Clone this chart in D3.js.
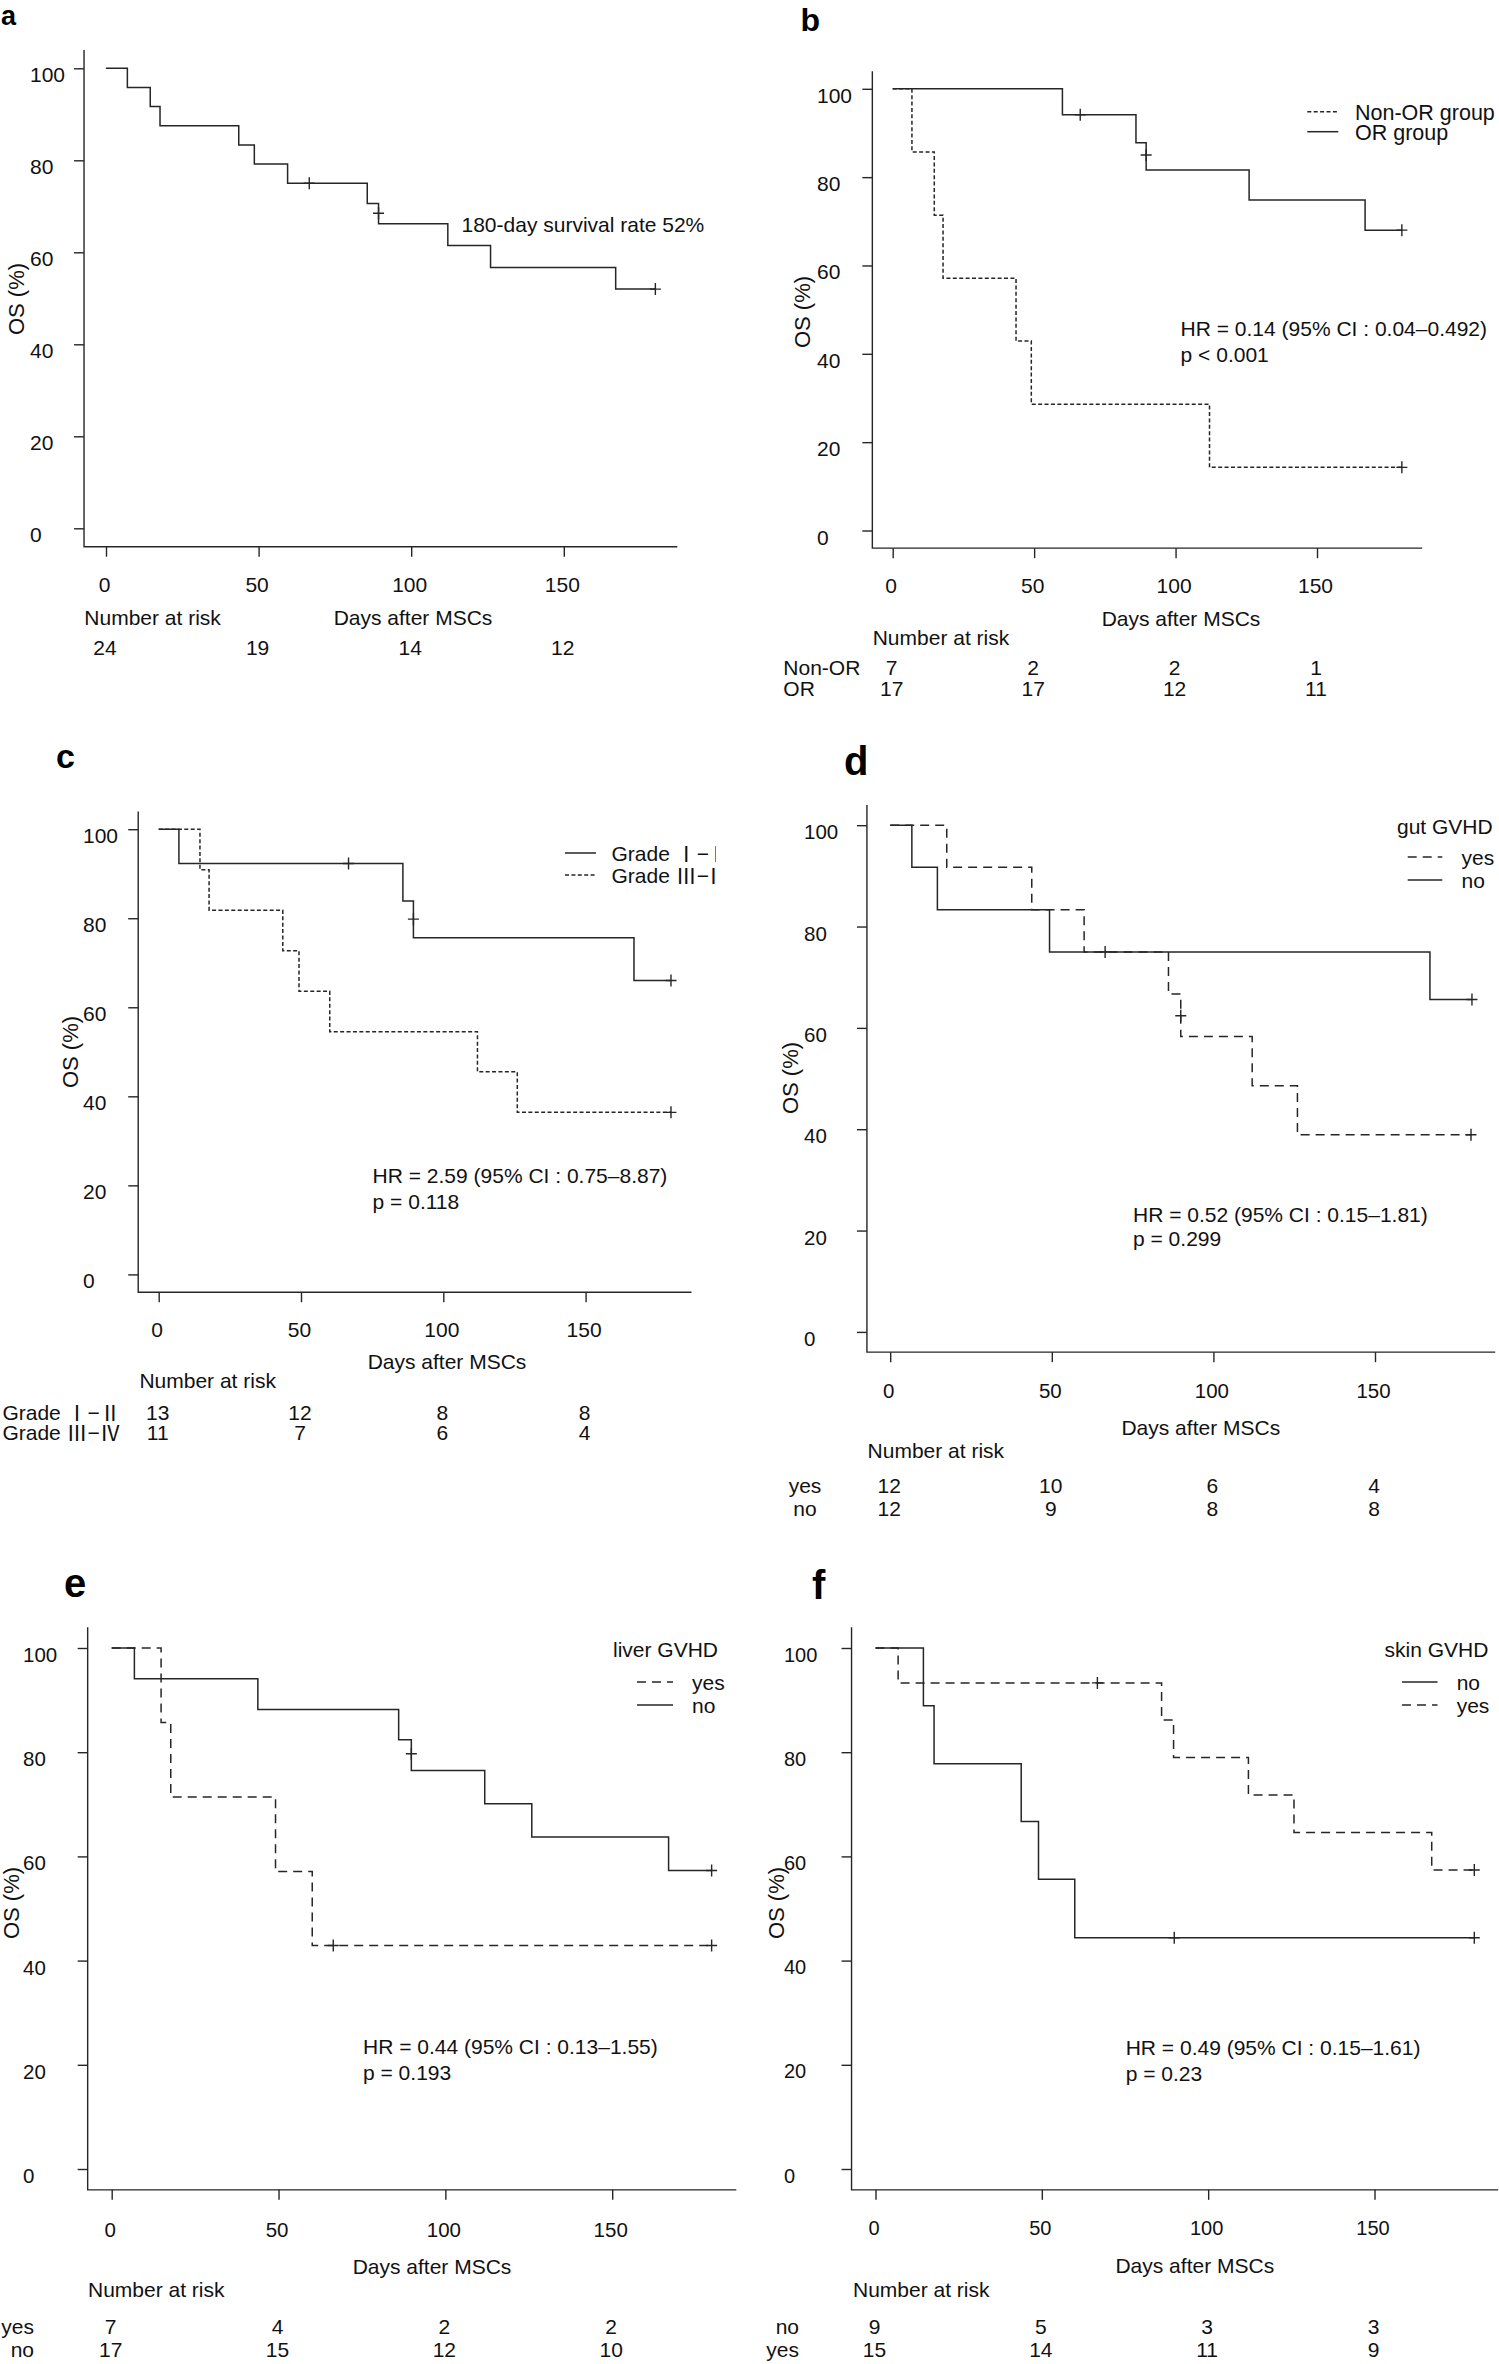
<!DOCTYPE html>
<html><head><meta charset="utf-8">
<script src="https://cdn.jsdelivr.net/npm/d3@7"></script>
<style>
html,body{margin:0;padding:0;background:#fff;}
svg{display:block;font-family:"Liberation Sans",Arial,Helvetica,sans-serif;}
</style></head><body>
<svg id="chart" width="1499" height="2364"></svg>
<script>
// ================= DATA =================
const xTicks = [0, 50, 100, 150];
const yTicks = [0, 20, 40, 60, 80, 100];
const riskDays = [0, 50, 100, 150];
const endDay = 180;

// panel a : all patients
const aTimes = [0, 7, 14.5, 17.7, 43.5, 48.6, 59.5, 85.6, 89.3, 112, 126, 167];
const aSurv  = [100, 95.8, 91.7, 87.5, 83.3, 79.2, 75.0, 70.6, 66.2, 61.5, 56.7, 52.0];
const aCensT = [66.6, 89.3, 180];
const aCensS = [75.0, 68.5, 52.0];
const aRisk  = [24, 19, 14, 12];

// panel b : Non-OR vs OR
const bNonTimes = [0, 6.8, 14.7, 17.8, 43.6, 49, 112];
const bNonSurv  = [100, 85.7, 71.4, 57.1, 42.9, 28.6, 14.3];
const bNonCensT = [180];
const bNonCensS = [14.3];
const bOrTimes  = [0, 60, 86, 89.6, 126, 167];
const bOrSurv   = [100, 94.1, 87.8, 81.6, 74.8, 68.0];
const bOrCensT  = [66.3, 89.6, 180];
const bOrCensS  = [94.1, 85.0, 68.0];
const bRiskNon  = [7, 2, 2, 1];
const bRiskOr   = [17, 17, 12, 11];

// panel c : Grade I-II vs III-IV
const cLowTimes  = [0, 7.1, 85.8, 89.5, 167];
const cLowSurv   = [100, 92.3, 83.9, 75.6, 66.0];
const cLowCensT  = [66.7, 89.5, 180];
const cLowCensS  = [92.3, 79.8, 66.0];
const cHighTimes = [0, 14.5, 17.7, 43.6, 49.3, 60.1, 112, 126];
const cHighSurv  = [100, 90.9, 81.8, 72.7, 63.6, 54.5, 45.5, 36.4];
const cHighCensT = [180];
const cHighCensS = [36.4];
const cRiskLow   = [13, 12, 8, 8];
const cRiskHigh  = [11, 7, 6, 4];

// panel d : gut GVHD
const dYesTimes = [0, 17.5, 43.8, 60, 86.1, 89.9, 112, 126];
const dYesSurv  = [100, 91.7, 83.3, 75.0, 66.7, 58.3, 48.6, 38.9];
const dYesCensT = [89.9, 179.7];
const dYesCensS = [62.4, 38.9];
const dNoTimes  = [0, 6.7, 14.6, 49.3, 167];
const dNoSurv   = [100, 91.7, 83.3, 75.0, 65.6];
const dNoCensT  = [66.5, 180];
const dNoCensS  = [75.0, 65.6];
const dRiskYes  = [12, 10, 6, 4];
const dRiskNo   = [12, 9, 8, 8];

// panel e : liver GVHD
const eYesTimes = [0, 14.8, 17.7, 49.1, 60.1];
const eYesSurv  = [100, 85.7, 71.4, 57.1, 42.9];
const eYesCensT = [66.4, 179.8];
const eYesCensS = [42.9, 42.9];
const eNoTimes  = [0, 6.8, 43.8, 86, 89.8, 111.8, 125.9, 166.9];
const eNoSurv   = [100, 94.1, 88.2, 82.4, 76.5, 70.1, 63.7, 57.3];
const eNoCensT  = [89.8, 179.8];
const eNoCensS  = [79.7, 57.3];
const eRiskYes  = [7, 4, 2, 2];
const eRiskNo   = [17, 15, 12, 10];

// panel f : skin GVHD
const fNoTimes  = [0, 14.4, 17.6, 43.8, 49, 59.9];
const fNoSurv   = [100, 88.9, 77.8, 66.7, 55.6, 44.4];
const fNoCensT  = [89.8, 180];
const fNoCensS  = [44.4, 44.4];
const fYesTimes = [0, 6.8, 86, 89.6, 112.1, 125.8, 167.2];
const fYesSurv  = [100, 93.3, 86.2, 79.0, 71.8, 64.6, 57.4];
const fYesCensT = [66.7, 180];
const fYesCensS = [93.3, 57.4];
const fRiskNo   = [9, 5, 3, 3];
const fRiskYes  = [15, 14, 11, 9];

// ================= STYLE / LAYOUT =================
const TEXT = '#111';
const LINE = '#262626';
const SOLID = null, DOTTED = '4,2.4', DASHED = '9,6';
const CJK = '"Noto Sans CJK JP","Noto Sans CJK SC",sans-serif';

const panels = [
  { label:'a', labelX:1, labelY:25, labelSize:27,
    x0:106, x150:563.8, y0:528.3, y100:68.3,
    yLabX:30, xLabY:585, fs:21, tickFs:21,
    osX:16, osY:299,
    daysX:413, daysY:617, narX:84.3, narY:617.3,
    series:[{t:aTimes, s:aSurv, ct:aCensT, cs:aCensS, dash:SOLID}],
    riskRows:[{name:'', vals:aRisk, y:646.7}], riskLabX:0, riskAnchor:'start',
    notes:[{text:'180-day survival rate 52%', x:461.5, y:224}],
    legend:null },
  { label:'b', labelX:800.4, labelY:31, labelSize:32,
    x0:892.7, x150:1317, y0:530.5, y100:88.8,
    yLabX:817, xLabY:586, fs:21, tickFs:21,
    osX:802.5, osY:312,
    daysX:1181, daysY:617.5, narX:872.7, narY:637,
    series:[{t:bNonTimes, s:bNonSurv, ct:bNonCensT, cs:bNonCensS, dash:DOTTED},
            {t:bOrTimes, s:bOrSurv, ct:bOrCensT, cs:bOrCensS, dash:SOLID}],
    riskRows:[{name:'Non-OR', vals:bRiskNon, y:666.7},{name:'OR', vals:bRiskOr, y:687.7}],
    riskLabX:783.3, riskAnchor:'start',
    notes:[{text:'HR = 0.14 (95% CI : 0.04\u20130.492)', x:1180.6, y:327.5},{text:'p < 0.001', x:1180.6, y:354.4}],
    legend:{title:null, x1:1307.3, x2:1338.3, tx:1355, lineDy:-1.5, fs:21.5,
            rows:[{text:'Non-OR group', y:113.2, dash:DOTTED},{text:'OR group', y:133.2, dash:SOLID}]} },
  { label:'c', labelX:56, labelY:768, labelSize:34,
    x0:158.7, x150:585.6, y0:1274.4, y100:829.2,
    yLabX:83, xLabY:1329.6, fs:21, tickFs:21,
    osX:70, osY:1052,
    daysX:447, daysY:1361, narX:139.4, narY:1380,
    series:[{t:cLowTimes, s:cLowSurv, ct:cLowCensT, cs:cLowCensS, dash:SOLID},
            {t:cHighTimes, s:cHighSurv, ct:cHighCensT, cs:cHighCensS, dash:DOTTED}],
    riskRows:[{name:'Grade \u2160\u2212\u2161', vals:cRiskLow, y:1412.3},{name:'Grade \u2162\u2212\u2163', vals:cRiskHigh, y:1431.7}],
    riskLabX:2.4, riskAnchor:'start',
    notes:[{text:'HR = 2.59 (95% CI : 0.75\u20138.87)', x:372.6, y:1174.8},{text:'p = 0.118', x:372.6, y:1200.8}],
    legend:{title:null, x1:565, x2:596, tx:611.5, clipRight:716, lineDy:0, fs:21,
            rows:[{text:'Grade \u2160\u2212\u2161', y:853, dash:SOLID},{text:'Grade \u2162\u2212\u2163', y:875, dash:DOTTED}]} },
  { label:'d', labelX:844, labelY:775, labelSize:40,
    x0:890.2, x150:1375, y0:1331.9, y100:825.2,
    yLabX:804, xLabY:1390.6, fs:21, tickFs:20.5,
    osX:790, osY:1078,
    daysX:1200.8, daysY:1426.6, narX:867.6, narY:1449.7,
    series:[{t:dYesTimes, s:dYesSurv, ct:dYesCensT, cs:dYesCensS, dash:DASHED},
            {t:dNoTimes, s:dNoSurv, ct:dNoCensT, cs:dNoCensS, dash:SOLID}],
    riskRows:[{name:'yes', vals:dRiskYes, y:1485.3},{name:'no', vals:dRiskNo, y:1508.4}],
    riskLabX:805, riskAnchor:'middle',
    notes:[{text:'HR = 0.52 (95% CI : 0.15\u20131.81)', x:1133, y:1214},{text:'p = 0.299', x:1133, y:1238}],
    legend:{title:'gut GVHD', titleX:1397, titleY:825.7, x1:1407.7, x2:1442.3, tx:1461.5, lineDy:0, fs:21,
            rows:[{text:'yes', y:857, dash:DASHED},{text:'no', y:880, dash:SOLID}]} },
  { label:'e', labelX:64, labelY:1597, labelSize:40,
    x0:111.7, x150:612.2, y0:2169, y100:1648,
    yLabX:23, xLabY:2229.7, fs:21, tickFs:20.5,
    osX:11, osY:1903,
    daysX:432, daysY:2265.8, narX:88, narY:2289,
    series:[{t:eYesTimes, s:eYesSurv, ct:eYesCensT, cs:eYesCensS, dash:DASHED},
            {t:eNoTimes, s:eNoSurv, ct:eNoCensT, cs:eNoCensS, dash:SOLID}],
    riskRows:[{name:'yes', vals:eRiskYes, y:2326},{name:'no', vals:eRiskNo, y:2349}],
    riskLabX:34, riskAnchor:'end',
    notes:[{text:'HR = 0.44 (95% CI : 0.13\u20131.55)', x:363, y:2046},{text:'p = 0.193', x:363, y:2071.5}],
    legend:{title:'liver GVHD', titleX:613, titleY:1648.7, x1:637, x2:673, tx:692, lineDy:0, fs:21,
            rows:[{text:'yes', y:1682, dash:DASHED},{text:'no', y:1705, dash:SOLID}]} },
  { label:'f', labelX:812, labelY:1599, labelSize:40,
    x0:875.5, x150:1374.5, y0:2169, y100:1648,
    yLabX:784, xLabY:2228.3, fs:21, tickFs:20,
    osX:776, osY:1903,
    daysX:1194.8, daysY:2265, narX:853, narY:2289,
    series:[{t:fNoTimes, s:fNoSurv, ct:fNoCensT, cs:fNoCensS, dash:SOLID},
            {t:fYesTimes, s:fYesSurv, ct:fYesCensT, cs:fYesCensS, dash:DASHED}],
    riskRows:[{name:'no', vals:fRiskNo, y:2325.5},{name:'yes', vals:fRiskYes, y:2348.5}],
    riskLabX:799, riskAnchor:'end',
    notes:[{text:'HR = 0.49 (95% CI : 0.15\u20131.61)', x:1125.7, y:2047},{text:'p = 0.23', x:1125.7, y:2072.7}],
    legend:{title:'skin GVHD', titleX:1384.6, titleY:1648.7, x1:1402, x2:1437.5, tx:1456.7, lineDy:0, fs:21,
            rows:[{text:'no', y:1682, dash:SOLID},{text:'yes', y:1705, dash:DASHED}]} }
];

// ================= DRAW =================
const svg = d3.select('#chart');
svg.append('rect').attr('width',1499).attr('height',2364).attr('fill','#fff');
const defs = svg.append('defs');

function txt(g, s, x, y, size, anchor){
  const t = g.append('text').attr('x', x).attr('y', y)
    .attr('text-anchor', anchor || 'start')
    .attr('dominant-baseline', 'central')
    .attr('fill', TEXT).style('font-size', size + 'px');
  // Roman numerals rendered with the CJK font (full-width glyphs)
  s.split(/([\u2160-\u216F]+)/).forEach(part => {
    if (!part) return;
    const sp = t.append('tspan').text(part);
    if (/[\u2160-\u216F]/.test(part)) sp.style('font-family', CJK);
  });
  return t;
}

panels.forEach(p => {
  const g = svg.append('g').attr('class', 'panel-' + p.label);
  const x = d3.scaleLinear().domain([0, 150]).range([p.x0, p.x150]);
  const y = d3.scaleLinear().domain([0, 100]).range([p.y0, p.y100]);
  const left = x(-7.2), right = x(187.2), top = y(104), bottom = y(-4);

  // panel letter
  g.append('text').attr('x', p.labelX).attr('y', p.labelY)
    .attr('fill', '#000').style('font-size', p.labelSize + 'px').style('font-weight', 'bold')
    .text(p.label);

  // L-shaped frame
  g.append('path').attr('d', `M${left},${top}V${bottom}H${right}`)
    .attr('fill', 'none').attr('stroke', LINE).attr('stroke-width', 1.4);

  // y axis
  const ya = g.append('g').attr('transform', `translate(${left},0)`)
    .call(d3.axisLeft(y).tickValues(yTicks).tickSize(10).tickFormat(d3.format('d')));
  ya.attr('font-family', null).attr('font-size', null);
  ya.select('.domain').remove();
  ya.selectAll('.tick line').attr('stroke', LINE).attr('stroke-width', 1.4);
  ya.selectAll('.tick text').attr('text-anchor', 'start').attr('x', p.yLabX - left)
    .attr('dy', null).attr('y', 6).attr('dominant-baseline', 'central')
    .attr('fill', TEXT).style('font-size', p.tickFs + 'px');

  // x axis
  const xa = g.append('g').attr('transform', `translate(0,${bottom})`)
    .call(d3.axisBottom(x).tickValues(xTicks).tickSize(10).tickFormat(d3.format('d')));
  xa.attr('font-family', null).attr('font-size', null);
  xa.select('.domain').remove();
  xa.selectAll('.tick line').attr('stroke', LINE).attr('stroke-width', 1.4);
  xa.selectAll('.tick text').attr('x', -2).attr('dy', null).attr('y', p.xLabY - bottom)
    .attr('dominant-baseline', 'central').attr('fill', TEXT).style('font-size', p.tickFs + 'px');

  // y title
  g.append('text').attr('transform', `translate(${p.osX},${p.osY}) rotate(-90)`)
    .attr('text-anchor', 'middle').attr('dominant-baseline', 'central')
    .attr('fill', TEXT).style('font-size', '22px').text('OS (%)');

  // x title & number at risk header
  txt(g, 'Days after MSCs', p.daysX, p.daysY, p.fs, 'middle');
  txt(g, 'Number at risk', p.narX, p.narY, p.fs, 'start');

  // curves
  const line = d3.line().x(d => x(d[0])).y(d => y(d[1])).curve(d3.curveStepAfter);
  p.series.forEach(s => {
    const pts = s.t.map((t, i) => [t, s.s[i]]);
    pts.push([endDay, s.s[s.s.length - 1]]);
    const path = g.append('path').datum(pts).attr('d', line)
      .attr('fill', 'none').attr('stroke', LINE).attr('stroke-width', 1.5);
    if (s.dash) path.attr('stroke-dasharray', s.dash);
    const cg = g.append('g');
    s.ct.forEach((t, i) => {
      const cx = x(t), cy = y(s.cs[i]);
      cg.append('path').attr('d', `M${cx-5.5},${cy}H${cx+5.5}M${cx},${cy-6}V${cy+6}`)
        .attr('stroke', LINE).attr('stroke-width', 1.4).attr('fill', 'none');
    });
  });

  // risk table
  p.riskRows.forEach(r => {
    if (r.name) txt(g, r.name, p.riskLabX, r.y, p.fs, p.riskAnchor);
    r.vals.forEach((v, i) => txt(g, String(v), x(riskDays[i]) - 1, r.y, p.fs, 'middle'));
  });

  // annotations
  p.notes.forEach(n => txt(g, n.text, n.x, n.y, p.fs, 'start'));

  // legend
  if (p.legend) {
    const L = p.legend;
    const lg = g.append('g');
    if (L.clipRight) {
      const cid = 'clip-' + p.label;
      defs.append('clipPath').attr('id', cid)
        .append('rect').attr('x', 0).attr('y', 0).attr('width', L.clipRight).attr('height', 2364);
      lg.attr('clip-path', `url(#${cid})`);
    }
    if (L.title) txt(lg, L.title, L.titleX, L.titleY, L.fs, 'start');
    L.rows.forEach(r => {
      const ly = r.y + (L.lineDy || 0);
      const ln = lg.append('line').attr('x1', L.x1).attr('x2', L.x2).attr('y1', ly).attr('y2', ly)
        .attr('stroke', LINE).attr('stroke-width', 1.5);
      if (r.dash) ln.attr('stroke-dasharray', r.dash);
      txt(lg, r.text, L.tx, r.y, L.fs, 'start');
    });
  }
});
</script>
</body></html>
